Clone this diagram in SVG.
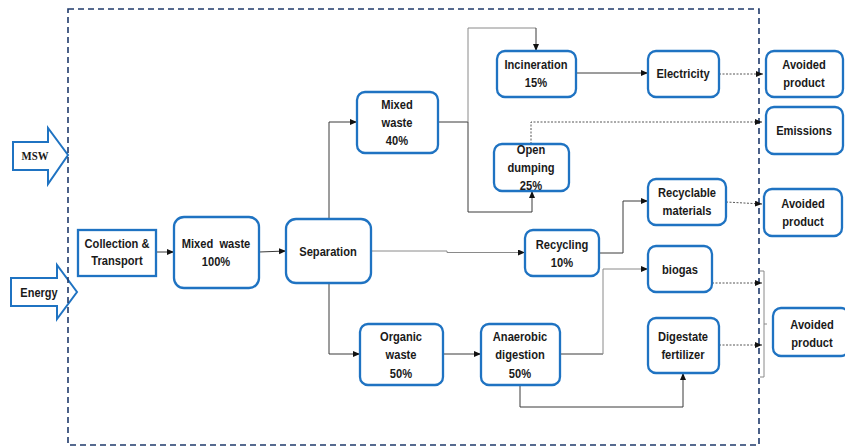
<svg xmlns="http://www.w3.org/2000/svg" width="845" height="446" viewBox="0 0 845 446">
  <defs>
    <marker id="arrow" markerUnits="userSpaceOnUse" markerWidth="8" markerHeight="8" refX="7" refY="3" orient="auto">
      <path d="M0,0 L7,3 L0,6 z" fill="#111"/>
    </marker>
    <style>
      .box { fill: #fff; stroke: #1f73c2; stroke-width: 2.3; }
      .lbl { font-family: "Liberation Sans", Arial, sans-serif; font-weight: bold; font-size: 12.5px; fill: #1a1a1a; text-anchor: middle; }
      .msw { font-family: "Liberation Serif", "Times New Roman", serif; font-weight: bold; font-size: 12px; fill: #1a1a1a; text-anchor: middle; }
      .flow { fill: none; stroke: #3a3a3a; stroke-width: 1; }
      .flow-light { fill: none; stroke: #8a8a8a; stroke-width: 1; }
      .dot { fill: none; stroke: #444; stroke-width: 0.9; stroke-dasharray: 2 1.5; }
      .bound { fill: none; stroke: #1f3a6b; stroke-width: 1.6; stroke-dasharray: 6 4; }
      .inarrow { fill: #fff; stroke: #1f73c2; stroke-width: 2; }
    </style>
  </defs>

  <!-- input arrows -->
  <g id="msw">
    <polygon class="inarrow" points="13,142 48,142 48,128 68,155 48,184 48,170 13,170"/>
    <text class="msw" transform="translate(35 160) scale(0.9 1)">MSW</text>
  </g>
  <g id="energy">
    <polygon class="inarrow" points="11,278 57,278 57,265 77,292 57,319 57,306 11,306"/>
    <text class="lbl" transform="translate(39 297) scale(0.88 1)">Energy</text>
  </g>

  <!-- system boundary -->
  <rect class="bound" x="68" y="9" width="691" height="436"/>

  <!-- connectors -->
  <g id="connectors">
    <path class="flow" d="M156,252 H174" marker-end="url(#arrow)"/>
    <path class="flow" d="M259,252 L286,251" marker-end="url(#arrow)"/>
    <path class="flow" d="M329,219 V122 H357" marker-end="url(#arrow)"/>
    <path class="flow" d="M329,283 V354 H360" marker-end="url(#arrow)"/>
    <path class="flow" d="M443,354 H481" marker-end="url(#arrow)"/>
    <path class="flow-light" d="M371,251 H447 V252.5 H525" marker-end="url(#arrow)"/>
    <path class="flow" d="M438,122 H468"/>
    <path class="flow-light" d="M468,122 V28 H536"/>
    <path class="flow" d="M536,28 V51" marker-end="url(#arrow)"/>
    <path class="flow" d="M468,122 V212 H532 V191" marker-end="url(#arrow)"/>
    <path class="flow" d="M576,73 H648" marker-end="url(#arrow)"/>
    <path class="dot" d="M719,74 H763" marker-end="url(#arrow)"/>
    <path class="dot" d="M531,144 V122 H762" marker-end="url(#arrow)"/>
    <path class="flow" d="M599,253 H623 V201 H648" marker-end="url(#arrow)"/>
    <path class="dot" d="M726,202 L762,204" marker-end="url(#arrow)"/>
    <path class="flow" d="M560,354 H603"/>
    <path class="flow-light" d="M603,354 V269 H648" marker-end="url(#arrow)"/>
    <path class="flow" d="M520,385 V407 H683 V373" marker-end="url(#arrow)"/>
    <path class="dot" d="M712,283 H762" marker-end="url(#arrow)"/>
    <path class="dot" d="M719,345 H762" marker-end="url(#arrow)"/>
    <path class="flow-light" d="M760,271 H764 V377 H760 M764,324 H767"/>
  </g>

  <!-- process nodes -->
  <g id="collection">
    <rect class="box" x="78" y="230" width="78" height="46"/>
    <text class="lbl" transform="translate(117 248) scale(0.89 1)">Collection &amp;</text>
    <text class="lbl" transform="translate(117 265) scale(0.89 1)">Transport</text>
  </g>
  <g id="mixed-waste-100">
    <rect class="box" x="174" y="217" width="85" height="71" rx="10"/>
    <text class="lbl" transform="translate(216 248) scale(0.89 1)" xml:space="preserve">Mixed  waste</text>
    <text class="lbl" transform="translate(216 266) scale(0.89 1)">100%</text>
  </g>
  <g id="separation">
    <rect class="box" x="286" y="219" width="85" height="64" rx="10"/>
    <text class="lbl" transform="translate(328 256) scale(0.89 1)">Separation</text>
  </g>
  <g id="mixed-waste-40">
    <rect class="box" x="357" y="92" width="81" height="61" rx="8"/>
    <text class="lbl" transform="translate(397 109) scale(0.89 1)">Mixed</text>
    <text class="lbl" transform="translate(397 127) scale(0.89 1)">waste</text>
    <text class="lbl" transform="translate(397 145) scale(0.89 1)">40%</text>
  </g>
  <g id="incineration">
    <rect class="box" x="497" y="51" width="79" height="46" rx="8"/>
    <text class="lbl" transform="translate(536 69) scale(0.89 1)">Incineration</text>
    <text class="lbl" transform="translate(536 87) scale(0.89 1)">15%</text>
  </g>
  <g id="open-dumping">
    <rect class="box" x="494" y="144" width="75" height="47" rx="8"/>
    <text class="lbl" transform="translate(531 154) scale(0.89 1)">Open</text>
    <text class="lbl" transform="translate(531 172) scale(0.89 1)">dumping</text>
    <text class="lbl" transform="translate(531 190) scale(0.89 1)">25%</text>
  </g>
  <g id="recycling">
    <rect class="box" x="525" y="230" width="74" height="46" rx="8"/>
    <text class="lbl" transform="translate(562 249) scale(0.89 1)">Recycling</text>
    <text class="lbl" transform="translate(562 267) scale(0.89 1)">10%</text>
  </g>
  <g id="organic-waste">
    <rect class="box" x="360" y="324" width="83" height="61" rx="8"/>
    <text class="lbl" transform="translate(401 341) scale(0.89 1)">Organic</text>
    <text class="lbl" transform="translate(401 359) scale(0.89 1)">waste</text>
    <text class="lbl" transform="translate(401 378) scale(0.89 1)">50%</text>
  </g>
  <g id="anaerobic-digestion">
    <rect class="box" x="481" y="324" width="79" height="61" rx="8"/>
    <text class="lbl" transform="translate(520 341) scale(0.89 1)">Anaerobic</text>
    <text class="lbl" transform="translate(520 359) scale(0.89 1)">digestion</text>
    <text class="lbl" transform="translate(520 378) scale(0.89 1)">50%</text>
  </g>
  <g id="electricity">
    <rect class="box" x="648" y="51" width="71" height="46" rx="8"/>
    <text class="lbl" transform="translate(683 78) scale(0.89 1)">Electricity</text>
  </g>
  <g id="recyclable-materials">
    <rect class="box" x="648" y="179" width="78" height="46" rx="8"/>
    <text class="lbl" transform="translate(687 197) scale(0.89 1)">Recyclable</text>
    <text class="lbl" transform="translate(687 215) scale(0.89 1)">materials</text>
  </g>
  <g id="biogas">
    <rect class="box" x="648" y="246" width="64" height="46" rx="8"/>
    <text class="lbl" transform="translate(680 274) scale(0.89 1)">biogas</text>
  </g>
  <g id="digestate-fertilizer">
    <rect class="box" x="648" y="318" width="71" height="55" rx="8"/>
    <text class="lbl" transform="translate(683 341) scale(0.89 1)">Digestate</text>
    <text class="lbl" transform="translate(683 359) scale(0.89 1)">fertilizer</text>
  </g>

  <!-- outputs -->
  <g id="avoided-product-1">
    <rect class="box" x="766" y="51" width="77" height="46" rx="8"/>
    <text class="lbl" transform="translate(804 69) scale(0.89 1)">Avoided</text>
    <text class="lbl" transform="translate(804 87) scale(0.89 1)">product</text>
  </g>
  <g id="emissions">
    <rect class="box" x="766" y="107" width="77" height="47" rx="8"/>
    <text class="lbl" transform="translate(804 135) scale(0.89 1)">Emissions</text>
  </g>
  <g id="avoided-product-2">
    <rect class="box" x="764" y="189" width="78" height="47" rx="8"/>
    <text class="lbl" transform="translate(803 208) scale(0.89 1)">Avoided</text>
    <text class="lbl" transform="translate(803 226) scale(0.89 1)">product</text>
  </g>
  <g id="avoided-product-3">
    <rect class="box" x="773" y="308" width="76" height="48" rx="8"/>
    <text class="lbl" transform="translate(812 329) scale(0.89 1)">Avoided</text>
    <text class="lbl" transform="translate(812 347) scale(0.89 1)">product</text>
  </g>
</svg>
